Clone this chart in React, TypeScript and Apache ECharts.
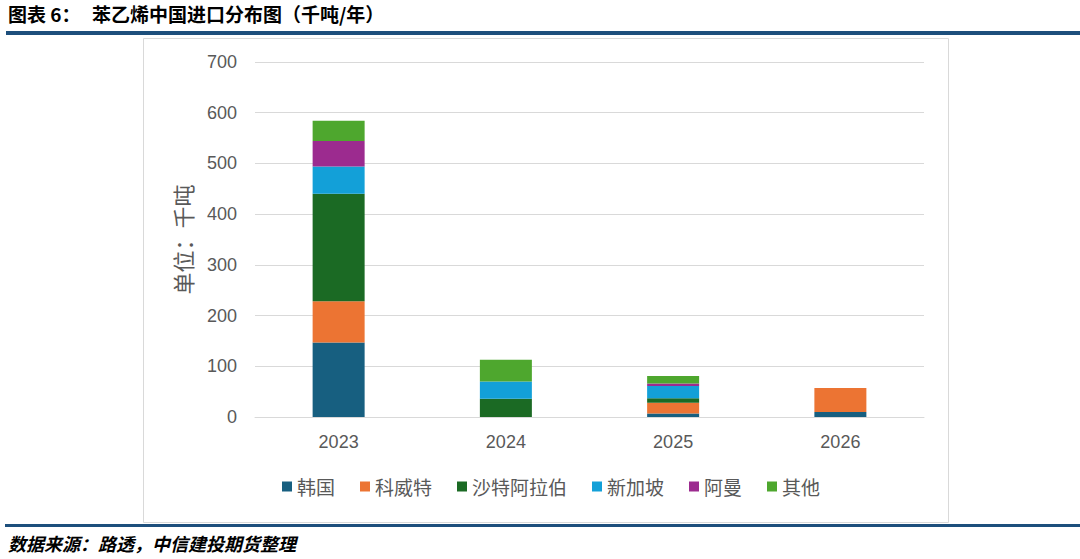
import React, { useEffect, useRef } from "react";
import * as echarts from "echarts";

const categories = ["2023", "2024", "2025", "2026"];
const seriesNames = ["韩国", "科威特", "沙特阿拉伯", "新加坡", "阿曼", "其他"];
const korea = [147, 0, 7, 10];
const kuwait = [81, 0, 21, 47];
const saudi = [212, 36, 9, 0];
const singapore = [54, 34, 24, 0];
const oman = [50, 0, 5, 0];
const other = [40, 43, 15, 0];
const colors = ["#175f80", "#ec7433", "#1b6a24", "#13a0d8", "#9c2b8f", "#4ea72e"];
const yTicks = { min: 0, max: 700, interval: 100 };

const cjk = "Noto Sans CJK SC, sans-serif";
const latin = "Liberation Sans, Arial, sans-serif";

export default function App() {
  const ref = useRef<HTMLDivElement>(null);
  useEffect(() => {
    const chart = echarts.init(ref.current!, null, { renderer: "svg" });
    const data = [korea, kuwait, saudi, singapore, oman, other];
    chart.setOption({
      animation: false,
      backgroundColor: "#ffffff",
      textStyle: { fontFamily: cjk },
      grid: { left: 255, right: 156, top: 62, bottom: 142 },
      legend: {
        data: seriesNames,
        bottom: 58,
        left: 277,
        itemWidth: 10,
        itemHeight: 10,
        itemGap: 25,
        icon: "rect",
        textStyle: { fontSize: 19, color: "#595959", fontFamily: cjk },
      },
      xAxis: {
        type: "category",
        data: categories,
        axisLine: { lineStyle: { color: "#d9d9d9", width: 1 } },
        axisTick: { show: false },
        axisLabel: { fontSize: 18, color: "#595959", margin: 16, fontFamily: latin },
      },
      yAxis: {
        type: "value",
        min: yTicks.min,
        max: yTicks.max,
        interval: yTicks.interval,
        name: "单位：千吨",
        nameLocation: "middle",
        nameGap: 62,
        nameTextStyle: { fontSize: 22, color: "#595959", fontFamily: cjk },
        axisLine: { show: false },
        axisTick: { show: false },
        axisLabel: { fontSize: 18, color: "#595959", margin: 18, fontFamily: latin },
        splitLine: { lineStyle: { color: "#d9d9d9", width: 1 } },
      },
      series: seriesNames.map((name, i) => ({
        name,
        type: "bar",
        stack: "total",
        barWidth: 52,
        data: data[i],
        itemStyle: { color: colors[i] },
      })),
      graphic: [
        {
          type: "rect",
          shape: { x: 143.5, y: 38.5, width: 805, height: 484 },
          style: { fill: "none", stroke: "#d9d9d9", lineWidth: 1 },
          z: -1,
        },
        {
          type: "text",
          left: 8,
          top: 4,
          style: { text: "图表 6：", fontSize: 19, fontWeight: "bold", fill: "#000", fontFamily: cjk },
        },
        {
          type: "text",
          left: 92,
          top: 4,
          style: { text: "苯乙烯中国进口分布图（千吨/年）", fontSize: 19, fontWeight: "bold", fill: "#000", fontFamily: cjk },
        },
        {
          type: "rect",
          shape: { x: 6, y: 31, width: 1074, height: 4 },
          style: { fill: "#1d4f7c" },
        },
        {
          type: "rect",
          shape: { x: 5, y: 524, width: 1075, height: 3 },
          style: { fill: "#1d4f7c" },
        },
        {
          type: "text",
          left: 8,
          top: 534,
          style: { text: "数据来源：路透，中信建投期货整理", fontSize: 18, fontWeight: "bold", fontStyle: "italic", fill: "#000", fontFamily: cjk },
        },
      ],
    });
    return () => chart.dispose();
  }, []);
  return (
    <div
      ref={ref}
      style={{ position: "fixed", left: 0, top: 0, width: 1080, height: 559 }}
    />
  );
}
